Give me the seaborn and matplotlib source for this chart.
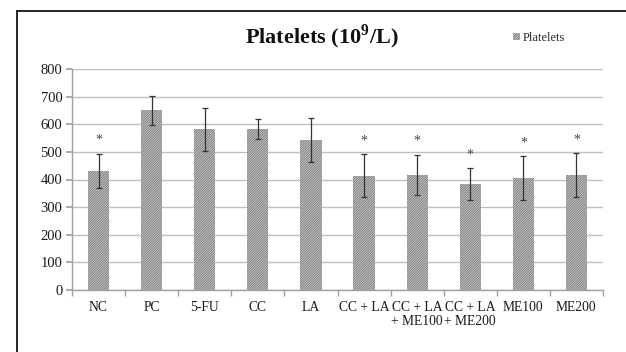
import matplotlib
matplotlib.use("Agg")
import matplotlib.pyplot as plt
import seaborn as sns
import numpy as np
from matplotlib.lines import Line2D
from matplotlib.patches import Patch

groups = ["NC", "PC", "5-FU", "CC", "LA", "CC + LA", "CC + LA\n+ ME100",
          "CC + LA\n+ ME200", "ME100", "ME200"]
means = [431, 650, 582, 582, 544, 413, 417, 384, 405, 415]
sds = [63, 52, 78, 37, 80, 78, 73, 57, 79, 80]
signif = ["*", "", "", "", "", "*", "*", "*", "*", "*"]
yticks = [0, 100, 200, 300, 400, 500, 600, 700, 800]

sns.set_theme(style="white")
plt.rcParams["font.family"] = ["Liberation Serif", "DejaVu Serif"]
plt.rcParams["mathtext.fontset"] = "custom"
plt.rcParams["mathtext.rm"] = "Liberation Serif"
plt.rcParams["mathtext.bf"] = "Liberation Serif:bold"
plt.rcParams["hatch.linewidth"] = 0.7

fig = plt.figure(figsize=(6.26, 3.52), dpi=100)
ax = fig.add_axes([72/626, 1-290/352, (603-72)/626, (290-69)/352])

bar_color = "#7a7a7a"
HATCH = "/" * 14
sns.barplot(x=groups, y=means, ax=ax, width=0.4, color="#d8d8d8",
            edgecolor=bar_color, linewidth=0, hatch=HATCH)
ax.errorbar(np.arange(len(groups)), means, yerr=sds, fmt="none",
            ecolor="#333333", elinewidth=0.9, capsize=2.5, capthick=0.9)
for i, (m, s, t) in enumerate(zip(means, sds, signif)):
    if t:
        ax.annotate(t, (i, m + s), xytext=(0, 5), textcoords="offset points",
                    ha="center", va="bottom", fontsize=10, color="#444444")

ax.set_ylim(0, 800)
ax.set_xlim(-0.5, len(groups) - 0.5)
ax.set_yticks(yticks)
ax.yaxis.grid(True, color="#c0c0c0", linewidth=1)
ax.set_axisbelow(True)
for sp in ["top", "right"]:
    ax.spines[sp].set_visible(False)
for sp in ["left", "bottom"]:
    ax.spines[sp].set_color("#a0a0a0")
    ax.spines[sp].set_linewidth(1)
ax.tick_params(axis="y", length=4, color="#a0a0a0", labelsize=10.5,
               labelcolor="#1a1a1a", pad=3, left=True)
ax.set_xticks(np.arange(len(groups)))
ax.set_xticklabels(groups, fontsize=9.8, color="#1a1a1a", linespacing=1.05)
ax.set_xticks(np.arange(-0.5, len(groups)), minor=True)
ax.tick_params(axis="x", which="major", length=0, pad=8)
ax.tick_params(axis="x", which="minor", length=4, color="#a0a0a0", bottom=True)
ax.set_xlabel("")
ax.set_ylabel("")

fig.text(322/626, 1-37/352, r"Platelets (10$^{\mathbf{9}}$/L)", ha="center",
         va="center", fontsize=16, fontweight="bold", color="#111111")

leg_patch = Patch(facecolor="#d8d8d8", edgecolor=bar_color, hatch=HATCH,
                  linewidth=0, label="Platelets")
fig.legend(handles=[leg_patch], loc="center left",
           bbox_to_anchor=(502/626, 1-38/352), frameon=False, fontsize=9,
           handlelength=0.55, handleheight=0.55, handletextpad=0.2)

fig.add_artist(Line2D([17/626, 17/626], [0, 1-11/352], color="black",
                      linewidth=1.2, transform=fig.transFigure))
fig.add_artist(Line2D([17/626, 1], [1-11/352, 1-11/352], color="black",
                      linewidth=1.2, transform=fig.transFigure))

fig.savefig("out.png", dpi=100)
